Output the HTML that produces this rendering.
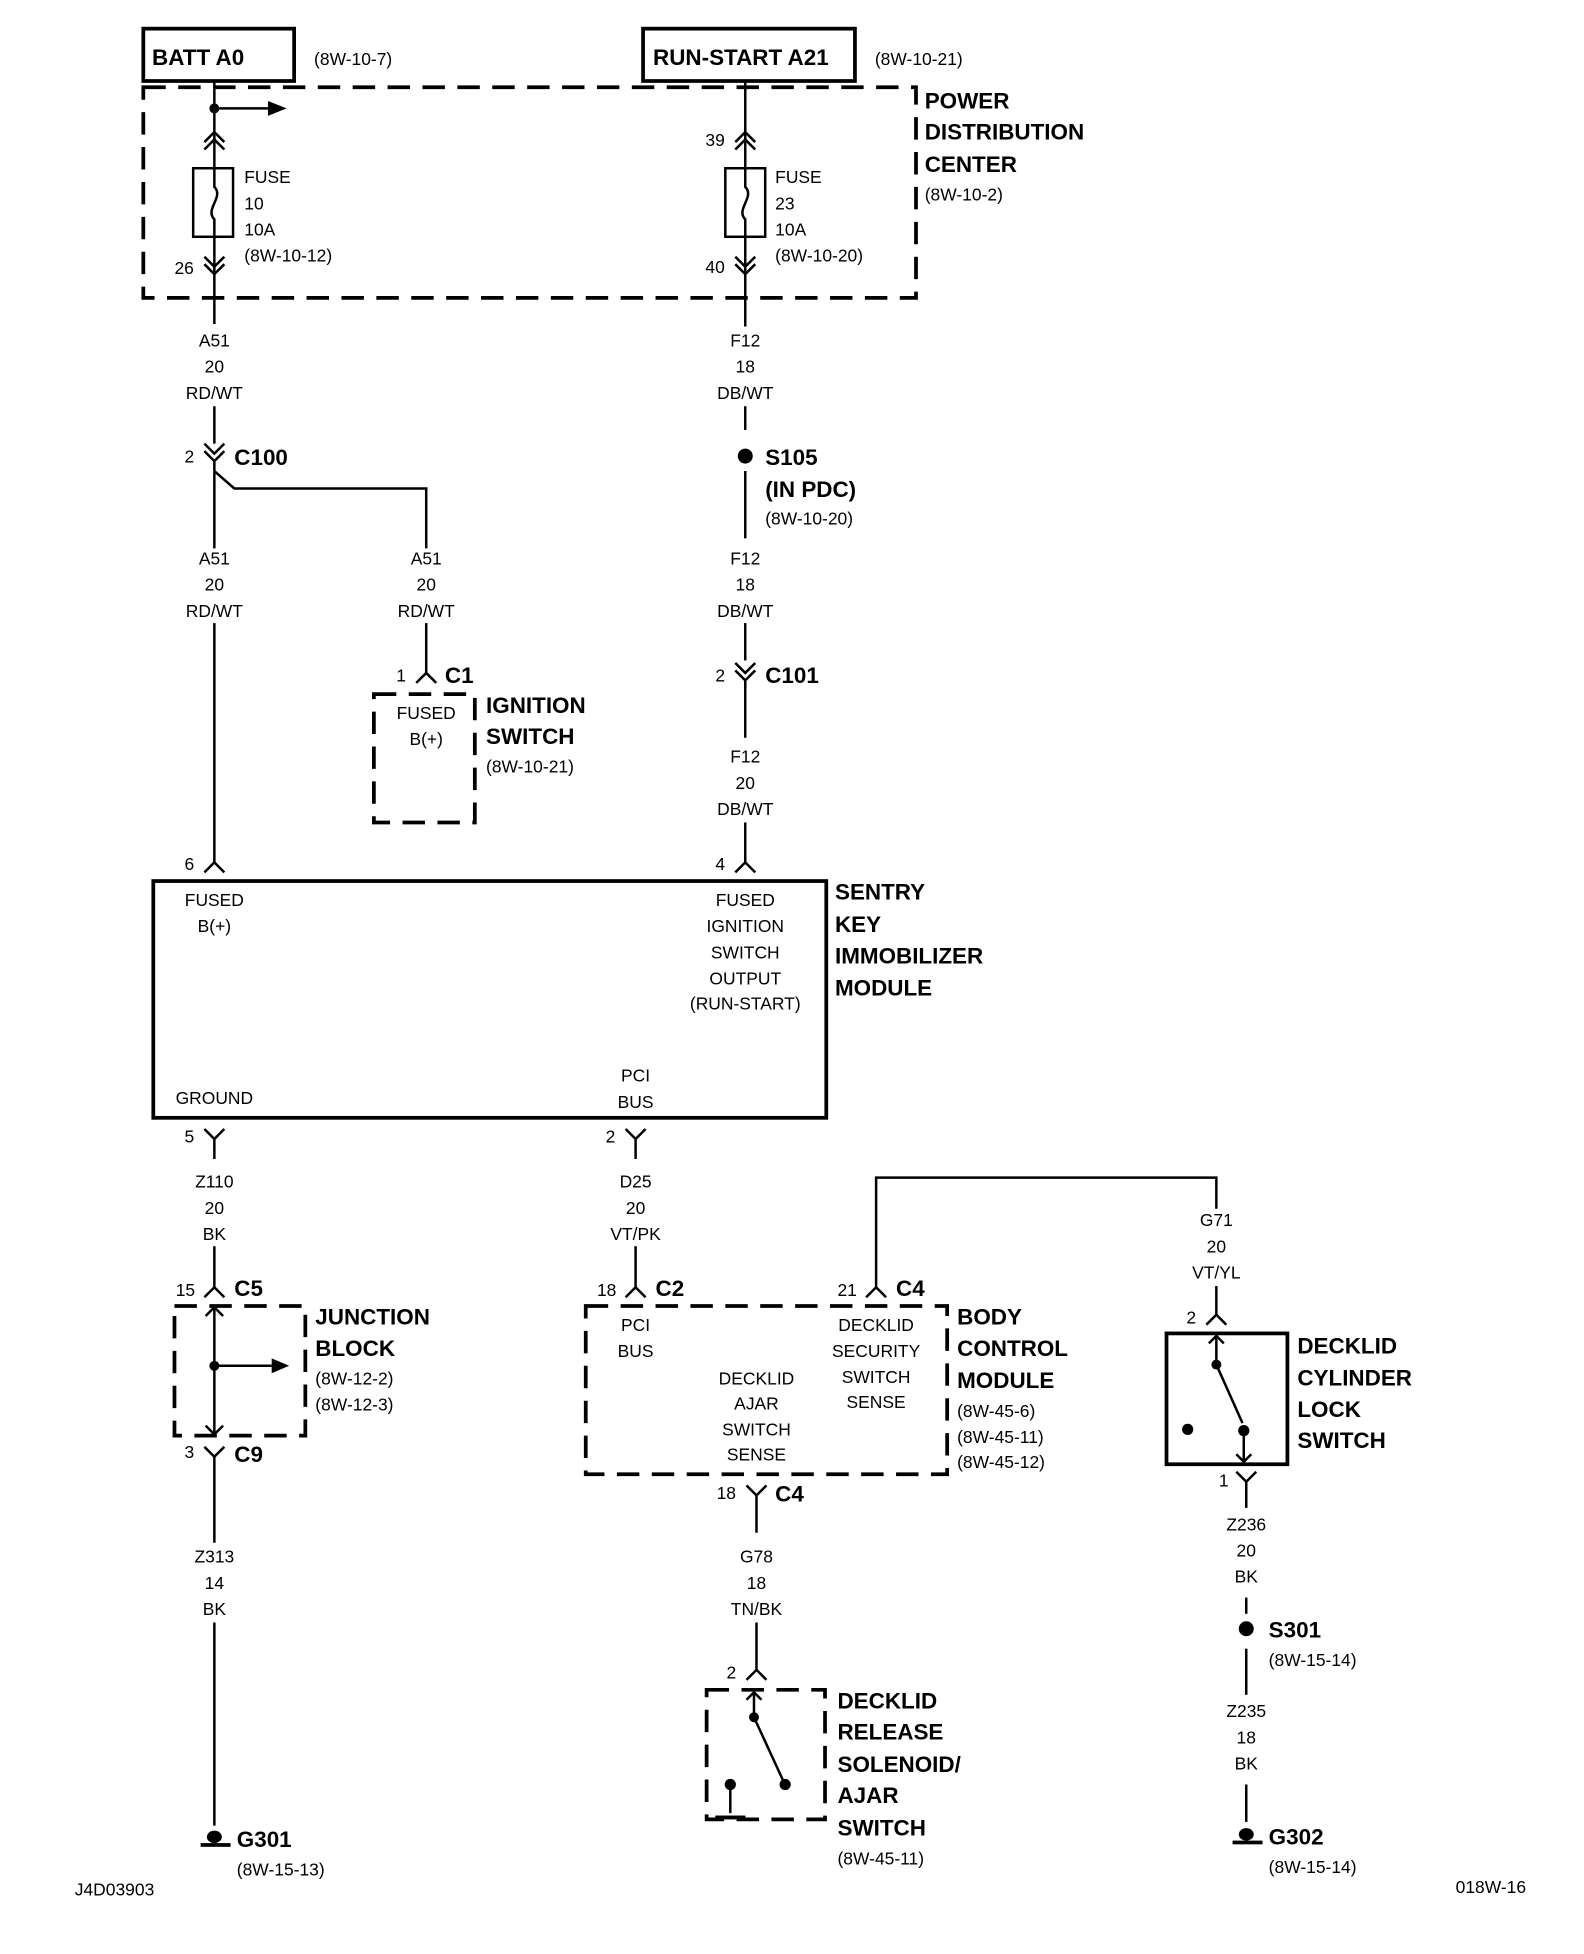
<!DOCTYPE html>
<html><head><meta charset="utf-8"><style>
html,body{margin:0;padding:0;background:#fff;}
svg{display:block;}
text{font-family:"Liberation Sans",sans-serif;fill:#000;}
.s{font-size:14px;}
.b{font-size:18px;font-weight:bold;}
.c{text-anchor:middle;}
</style></head><body>
<svg width="1584" height="1954" viewBox="0 0 1271 1568" preserveAspectRatio="none" xmlns="http://www.w3.org/2000/svg">
<g fill="none" stroke="#000" stroke-width="2">
<rect x="115" y="23" width="121" height="42" stroke-width="3"/>
<rect x="516" y="23" width="170" height="42" stroke-width="3"/>
<rect x="115" y="70" width="620" height="169" stroke-width="3" stroke-dasharray="18,10"/>
<line x1="172" y1="65" x2="172" y2="260"/>
<line x1="172" y1="87" x2="215" y2="87"/>
<path d="M164,114 L172,106 L180,114 M164,120 L172,112 L180,120"/>
<path d="M164,206 L172,214 L180,206 M164,212 L172,220 L180,212"/>
<rect x="155" y="135" width="32" height="55" fill="#fff"/>
<path d="M172,135 L172,150 C180,158 164,168 172,176 L172,190"/>
<line x1="598" y1="65" x2="598" y2="262"/>
<path d="M590,114 L598,106 L606,114 M590,120 L598,112 L606,120"/>
<path d="M590,206 L598,214 L606,206 M590,212 L598,220 L606,212"/>
<rect x="582" y="135" width="32" height="55" fill="#fff"/>
<path d="M598,135 L598,150 C606,158 590,168 598,176 L598,190"/>
<line x1="172" y1="326" x2="172" y2="356"/>
<path d="M164,356 L172,364 L180,356 M164,362 L172,370 L180,362"/>
<line x1="172" y1="370" x2="172" y2="440"/>
<path d="M172,378 L188,392 L342,392 L342,440"/>
<line x1="342" y1="500" x2="342" y2="540"/>
<path d="M334,548 L342,540 L350,548"/>
<rect x="300" y="557" width="81" height="103" stroke-width="3" stroke-dasharray="18,10"/>
<line x1="172" y1="500" x2="172" y2="692"/>
<path d="M164,700 L172,692 L180,700"/>
<line x1="598" y1="326" x2="598" y2="345"/>
<line x1="598" y1="378" x2="598" y2="432"/>
<line x1="598" y1="500" x2="598" y2="530"/>
<path d="M590,532 L598,540 L606,532 M590,538 L598,546 L606,538"/>
<line x1="598" y1="546" x2="598" y2="592"/>
<line x1="598" y1="660" x2="598" y2="692"/>
<path d="M590,700 L598,692 L606,700"/>
<rect x="123" y="707" width="540" height="190" stroke-width="3"/>
<path d="M164,906 L172,914 L180,906 M172,914 L172,930"/>
<path d="M502,906 L510,914 L518,906 M510,914 L510,930"/>
<line x1="172" y1="1000" x2="172" y2="1033"/>
<path d="M164,1041 L172,1033 L180,1041"/>
<rect x="140" y="1048" width="105" height="104" stroke-width="3" stroke-dasharray="18,10"/>
<line x1="172" y1="1048" x2="172" y2="1152"/>
<path d="M165,1056 L172,1049 L179,1056 M165,1144 L172,1151 L179,1144"/>
<line x1="172" y1="1096" x2="218" y2="1096"/>
<path d="M164,1161 L172,1169 L180,1161 M172,1169 L172,1238"/>
<line x1="172" y1="1302" x2="172" y2="1465"/>
<line x1="510" y1="1000" x2="510" y2="1033"/>
<path d="M502,1041 L510,1033 L518,1041"/>
<path d="M703,1033 L703,945 L976,945 L976,970"/>
<path d="M695,1041 L703,1033 L711,1041"/>
<rect x="470" y="1048" width="290" height="135" stroke-width="3" stroke-dasharray="18,10"/>
<path d="M599,1192 L607,1200 L615,1192 M607,1200 L607,1230"/>
<line x1="607" y1="1302" x2="607" y2="1340"/>
<path d="M599,1348 L607,1340 L615,1348"/>
<rect x="567" y="1356" width="95" height="104" stroke-width="3" stroke-dasharray="18,10"/>
<path d="M605,1357 L605,1378 M599,1364 L605,1358 L611,1364"/>
<line x1="605" y1="1378" x2="628" y2="1428"/>
<path d="M586,1432 L586,1455 M574,1458 L598,1458"/>
<line x1="976" y1="1032" x2="976" y2="1055"/>
<path d="M968,1063 L976,1055 L984,1063"/>
<rect x="936" y="1070" width="97" height="105" stroke-width="3"/>
<path d="M976,1071 L976,1095 M970,1078 L976,1072 L982,1078"/>
<line x1="976" y1="1095" x2="997" y2="1142"/>
<path d="M998,1148 L998,1174 M992,1167 L998,1173 L1004,1167"/>
<path d="M992,1181 L1000,1189 L1008,1181 M1000,1189 L1000,1210"/>
<line x1="1000" y1="1282" x2="1000" y2="1295"/>
<line x1="1000" y1="1323" x2="1000" y2="1360"/>
<line x1="1000" y1="1432" x2="1000" y2="1462"/>
</g>
<g fill="#000">
<circle cx="172" cy="87" r="4"/>
<polygon points="215,81 230,87 215,93"/>
<circle cx="598" cy="366" r="6"/>
<circle cx="172" cy="1096" r="4"/>
<polygon points="218,1090 232,1096 218,1102"/>
<circle cx="605" cy="1378" r="4"/>
<circle cx="630" cy="1432" r="4.5"/>
<circle cx="586" cy="1432" r="4.5"/>
<circle cx="976" cy="1095" r="4"/>
<circle cx="998" cy="1148" r="4.5"/>
<circle cx="953" cy="1147" r="4.5"/>
<circle cx="1000" cy="1307" r="6"/>
<ellipse cx="172" cy="1474" rx="6" ry="5"/><rect x="161" y="1479" width="24" height="3"/>
<ellipse cx="1000" cy="1472" rx="6" ry="5"/><rect x="989" y="1477" width="24" height="3"/>
<rect x="574" y="1457" width="24" height="3"/>
</g>
<text class="b" x="122" y="52">BATT A0</text>
<text class="s" x="252" y="52">(8W-10-7)</text>
<text class="b" x="524" y="52">RUN-START A21</text>
<text class="s" x="702" y="52">(8W-10-21)</text>
<text class="b" x="742" y="87">POWER</text>
<text class="b" x="742" y="112">DISTRIBUTION</text>
<text class="b" x="742" y="138">CENTER</text>
<text class="s" x="742" y="161">(8W-10-2)</text>
<text class="s" x="196" y="147">FUSE</text><text class="s" x="196" y="168">10</text><text class="s" x="196" y="189">10A</text><text class="s" x="196" y="210">(8W-10-12)</text>
<text class="s" x="140" y="220">26</text>
<text class="s" x="622" y="147">FUSE</text><text class="s" x="622" y="168">23</text><text class="s" x="622" y="189">10A</text><text class="s" x="622" y="210">(8W-10-20)</text>
<text class="s" x="566" y="117">39</text><text class="s" x="566" y="219">40</text>
<g>
<text class="s c" x="172" y="278">A51</text><text class="s c" x="172" y="299">20</text><text class="s c" x="172" y="320">RD/WT</text>
<text class="s c" x="598" y="278">F12</text><text class="s c" x="598" y="299">18</text><text class="s c" x="598" y="320">DB/WT</text>
<text class="s c" x="172" y="453">A51</text><text class="s c" x="172" y="474">20</text><text class="s c" x="172" y="495">RD/WT</text>
<text class="s c" x="342" y="453">A51</text><text class="s c" x="342" y="474">20</text><text class="s c" x="342" y="495">RD/WT</text>
<text class="s c" x="598" y="453">F12</text><text class="s c" x="598" y="474">18</text><text class="s c" x="598" y="495">DB/WT</text>
<text class="s c" x="598" y="612">F12</text><text class="s c" x="598" y="633">20</text><text class="s c" x="598" y="654">DB/WT</text>
<text class="s c" x="342" y="577">FUSED</text><text class="s c" x="342" y="598">B(+)</text>
<text class="s c" x="172" y="727">FUSED</text><text class="s c" x="172" y="748">B(+)</text>
<text class="s c" x="598" y="727">FUSED</text><text class="s c" x="598" y="748">IGNITION</text><text class="s c" x="598" y="769">SWITCH</text><text class="s c" x="598" y="790">OUTPUT</text><text class="s c" x="598" y="810">(RUN-START)</text>
<text class="s c" x="172" y="886">GROUND</text>
<text class="s c" x="510" y="868">PCI</text><text class="s c" x="510" y="889">BUS</text>
<text class="s c" x="172" y="953">Z110</text><text class="s c" x="172" y="974">20</text><text class="s c" x="172" y="995">BK</text>
<text class="s c" x="510" y="953">D25</text><text class="s c" x="510" y="974">20</text><text class="s c" x="510" y="995">VT/PK</text>
<text class="s c" x="976" y="984">G71</text><text class="s c" x="976" y="1005">20</text><text class="s c" x="976" y="1026">VT/YL</text>
<text class="s c" x="510" y="1068">PCI</text><text class="s c" x="510" y="1089">BUS</text>
<text class="s c" x="703" y="1068">DECKLID</text><text class="s c" x="703" y="1089">SECURITY</text><text class="s c" x="703" y="1110">SWITCH</text><text class="s c" x="703" y="1130">SENSE</text>
<text class="s c" x="607" y="1111">DECKLID</text><text class="s c" x="607" y="1131">AJAR</text><text class="s c" x="607" y="1152">SWITCH</text><text class="s c" x="607" y="1172">SENSE</text>
<text class="s c" x="172" y="1254">Z313</text><text class="s c" x="172" y="1275">14</text><text class="s c" x="172" y="1296">BK</text>
<text class="s c" x="607" y="1254">G78</text><text class="s c" x="607" y="1275">18</text><text class="s c" x="607" y="1296">TN/BK</text>
<text class="s c" x="1000" y="1228">Z236</text><text class="s c" x="1000" y="1249">20</text><text class="s c" x="1000" y="1270">BK</text>
<text class="s c" x="1000" y="1378">Z235</text><text class="s c" x="1000" y="1399">18</text><text class="s c" x="1000" y="1420">BK</text>
</g>
<text class="s" x="148" y="371">2</text><text class="b" x="188" y="373">C100</text>
<text class="b" x="614" y="373">S105</text><text class="b" x="614" y="399">(IN PDC)</text><text class="s" x="614" y="421">(8W-10-20)</text>
<text class="s" x="318" y="547">1</text><text class="b" x="357" y="548">C1</text>
<text class="b" x="390" y="572">IGNITION</text><text class="b" x="390" y="597">SWITCH</text><text class="s" x="390" y="620">(8W-10-21)</text>
<text class="s" x="574" y="547">2</text><text class="b" x="614" y="548">C101</text>
<text class="s" x="148" y="698">6</text><text class="s" x="574" y="698">4</text>
<text class="b" x="670" y="722">SENTRY</text><text class="b" x="670" y="748">KEY</text><text class="b" x="670" y="773">IMMOBILIZER</text><text class="b" x="670" y="799">MODULE</text>
<text class="s" x="148" y="917">5</text><text class="s" x="486" y="917">2</text>
<text class="s" x="141" y="1040">15</text><text class="b" x="188" y="1040">C5</text>
<text class="b" x="253" y="1063">JUNCTION</text><text class="b" x="253" y="1088">BLOCK</text><text class="s" x="253" y="1111">(8W-12-2)</text><text class="s" x="253" y="1132">(8W-12-3)</text>
<text class="s" x="148" y="1170">3</text><text class="b" x="188" y="1173">C9</text>
<text class="b" x="190" y="1482">G301</text><text class="s" x="190" y="1505">(8W-15-13)</text>
<text class="s" x="479" y="1040">18</text><text class="b" x="526" y="1040">C2</text>
<text class="s" x="672" y="1040">21</text><text class="b" x="719" y="1040">C4</text>
<text class="b" x="768" y="1063">BODY</text><text class="b" x="768" y="1088">CONTROL</text><text class="b" x="768" y="1114">MODULE</text>
<text class="s" x="768" y="1137">(8W-45-6)</text><text class="s" x="768" y="1158">(8W-45-11)</text><text class="s" x="768" y="1178">(8W-45-12)</text>
<text class="s" x="575" y="1203">18</text><text class="b" x="622" y="1205">C4</text>
<text class="s" x="583" y="1347">2</text>
<text class="b" x="672" y="1371">DECKLID</text><text class="b" x="672" y="1396">RELEASE</text><text class="b" x="672" y="1422">SOLENOID/</text><text class="b" x="672" y="1447">AJAR</text><text class="b" x="672" y="1473">SWITCH</text><text class="s" x="672" y="1496">(8W-45-11)</text>
<text class="s" x="952" y="1062">2</text>
<text class="b" x="1041" y="1086">DECKLID</text><text class="b" x="1041" y="1112">CYLINDER</text><text class="b" x="1041" y="1137">LOCK</text><text class="b" x="1041" y="1162">SWITCH</text>
<text class="s" x="978" y="1193">1</text>
<text class="b" x="1018" y="1314">S301</text><text class="s" x="1018" y="1337">(8W-15-14)</text>
<text class="b" x="1018" y="1480">G302</text><text class="s" x="1018" y="1503">(8W-15-14)</text>
<text class="s" x="60" y="1521">J4D03903</text>
<text class="s" x="1168" y="1519">018W-16</text>
</svg>
</body></html>
